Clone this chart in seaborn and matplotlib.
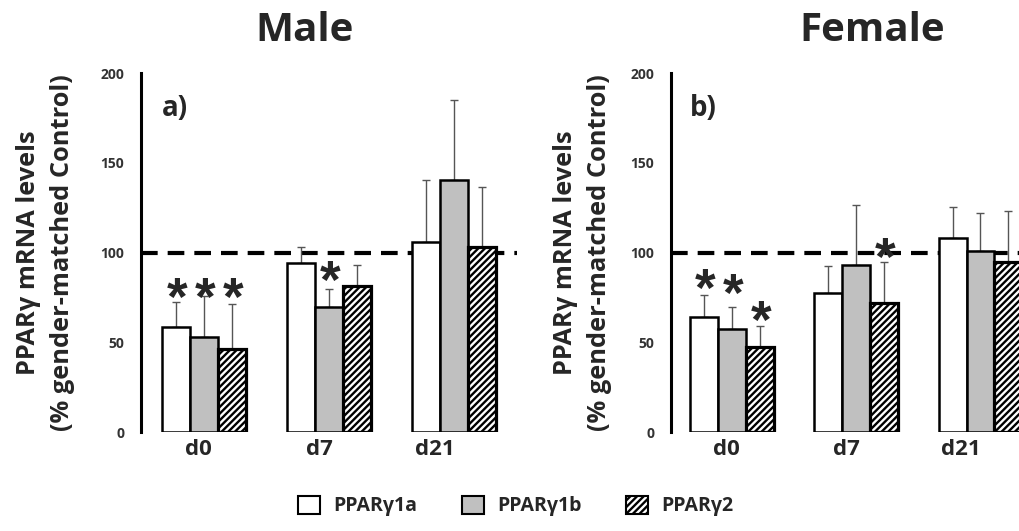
import numpy as np
import pandas as pd
import matplotlib
matplotlib.use('Agg')
import matplotlib.pyplot as plt
import seaborn as sns
from matplotlib.patches import Patch

# ==========================================
# DATA
# ==========================================
days = ['d0', 'd7', 'd21']
isoforms = ['PPARγ1a', 'PPARγ1b', 'PPARγ2']

male_1a = [58.6, 93.9, 106.0]
male_1b = [53.1, 69.4, 140.5]
male_2 = [46.0, 81.3, 103.2]
male_1a_err = [14.0, 9.3, 34.3]
male_1b_err = [22.8, 10.4, 44.7]
male_2_err = [25.1, 11.7, 33.4]

female_1a = [64.0, 77.2, 108.1]
female_1b = [57.5, 92.8, 101.1]
female_2 = [47.3, 71.8, 94.6]
female_1a_err = [12.2, 15.2, 17.1]
female_1b_err = [12.4, 33.9, 20.8]
female_2_err = [11.7, 23.0, 28.4]

# significance marks: (day index, isoform index, height of the star)
male_stars = [(0, 0, 81), (0, 1, 81), (0, 2, 81), (1, 1, 90)]
female_stars = [(0, 0, 86), (0, 1, 83), (0, 2, 68), (1, 2, 103)]

control_level = 100
yticks = [0, 50, 100, 150, 200]

# ==========================================
# STYLE
# ==========================================
sns.set_style('white')
plt.rcParams['font.family'] = ['Open Sans', 'DejaVu Sans']
plt.rcParams['font.weight'] = 'bold'
plt.rcParams['hatch.linewidth'] = 1.7

colors = ['white', '#c0c0c0', 'white']
hatch = '/////'


def make_frame(a, b, c):
    return pd.DataFrame({
        'day': days * 3,
        'isoform': np.repeat(isoforms, len(days)),
        'value': list(a) + list(b) + list(c),
    })


def draw_panel(ax, df, errs, stars, letter):
    sns.barplot(data=df, x='day', y='value', hue='isoform', order=days,
                hue_order=isoforms, palette=colors, width=0.672, gap=0,
                errorbar=None, edgecolor='black', linewidth=1.8,
                legend=False, ax=ax, zorder=3)
    bar_conts = list(ax.containers)

    ax.axhline(control_level, color='black', lw=3, dashes=(4, 2.4), zorder=1)

    for k, cont in enumerate(bar_conts):
        xs, hs = [], []
        for bar in cont:
            if k == 2:
                bar.set_hatch(hatch)
                bar.set_linewidth(2.3)
            xs.append(bar.get_x() + bar.get_width() / 2)
            hs.append(bar.get_height())
        ax.errorbar(xs, hs, yerr=[np.zeros(len(xs)), errs[k]], fmt='none',
                    ecolor='#555555', elinewidth=1.0, capsize=3,
                    capthick=1.0, zorder=2)

    for d, k, h in stars:
        bar = bar_conts[k][d]
        ax.annotate('*', (bar.get_x() + bar.get_width() / 2, h),
                    xytext=(1, -10), textcoords='offset points',
                    ha='center', va='center', fontsize=38,
                    fontweight='bold', family='Liberation Sans', zorder=4)

    ax.set_ylim(0, 200)
    ax.set_yticks(yticks)
    ax.set_xticks(np.arange(len(days)) + np.array([-0.045, -0.075, -0.155]))
    ax.set_xticklabels(days)
    ax.set_xlabel('')
    ax.set_ylabel('')
    ax.tick_params(axis='y', length=0, pad=12, labelsize=10,
                   labelcolor='#333333')
    ax.tick_params(axis='x', length=0, pad=5, labelsize=16)
    sns.despine(ax=ax, bottom=True)
    ax.spines['left'].set_linewidth(2.2)
    ax.spines['left'].set_color('black')

    ax.text(0.055, 0.9, letter, transform=ax.transAxes, fontsize=20,
            fontweight='bold', va='center', ha='left')
    ax.text(-0.255, 0.5, 'PPARγ mRNA levels\n(% gender-matched Control)',
            transform=ax.transAxes, rotation=90, ha='center', va='center',
            fontsize=18.3, fontweight='bold', linespacing=1.45)


fig = plt.figure(figsize=(10.19, 5.31), dpi=100)
ax1 = fig.add_axes([0.1384, 0.1864, 0.3685, 0.676])
ax2 = fig.add_axes([0.6585, 0.1864, 0.3415, 0.676])

draw_panel(ax1, make_frame(male_1a, male_1b, male_2),
           [male_1a_err, male_1b_err, male_2_err], male_stars, 'a)')
ax1.set_xlim(-0.504, 2.5)

draw_panel(ax2, make_frame(female_1a, female_1b, female_2),
           [female_1a_err, female_1b_err, female_2_err], female_stars, 'b)')
ax2.set_xlim(-0.49, 2.31)

fig.text(305 / 1019, 1 - 31 / 531, 'Male', ha='center', va='center',
         fontsize=29, fontweight='bold')
fig.text(872 / 1019, 1 - 31 / 531, 'Female', ha='center', va='center',
         fontsize=29, fontweight='bold')

handles = [Patch(facecolor=colors[i], edgecolor='black', linewidth=1.5,
                 hatch=hatch if i == 2 else None) for i in range(3)]
fig.legend(handles=handles, labels=isoforms, loc='center',
           bbox_to_anchor=(516 / 1019, 1 - 506 / 531), ncol=3, frameon=False,
           handlelength=1.1, handleheight=1.1, columnspacing=2.3,
           handletextpad=0.7, prop={'weight': 'bold', 'size': 14})

fig.savefig('out.png', dpi=100)
